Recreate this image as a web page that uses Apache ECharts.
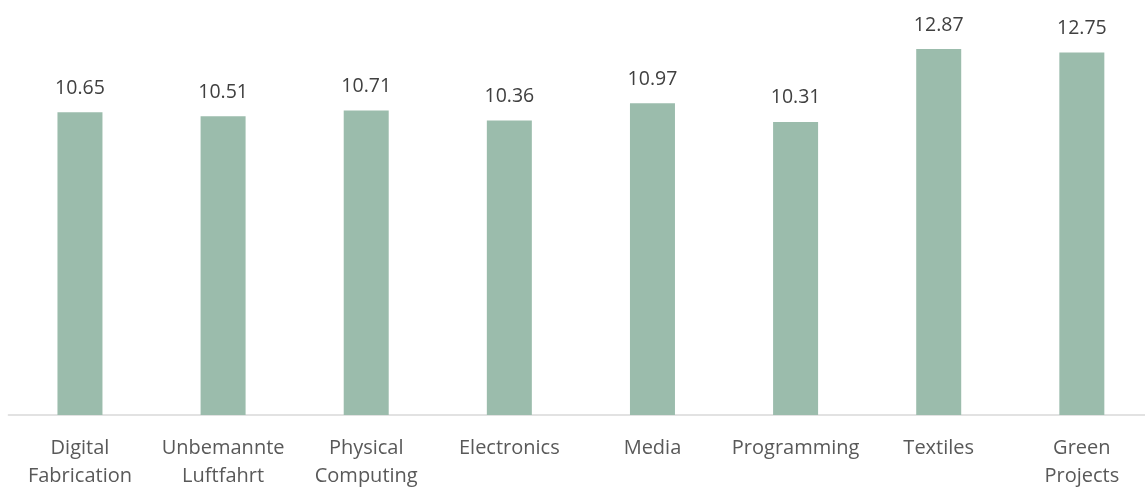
<!DOCTYPE html>
<html><head><meta charset="utf-8">
<script src="https://cdn.jsdelivr.net/npm/echarts@6/dist/echarts.min.js"></script>
<style>html,body{margin:0;padding:0;background:#fff;overflow:hidden}#c{width:1145px;height:487px}</style>
</head><body><div id="c"></div>
<script>
const categories = ['Digital\nFabrication','Unbemannte\nLuftfahrt','Physical\nComputing','Electronics','Media','Programming','Textiles','Green\nProjects'];
const values = [10.65, 10.51, 10.71, 10.36, 10.97, 10.31, 12.87, 12.75];
const chart = echarts.init(document.getElementById('c'), null, {renderer:'canvas'});
chart.setOption({
  animation:false,
  textStyle:{fontFamily:'Open Sans'},
  grid:{left:8.4, width:1145, top:17, bottom:72, containLabel:false, outerBoundsMode:'none'},
  xAxis:{type:'category', data:categories,
    axisLine:{show:true, lineStyle:{color:'#d9d9d9', width:1.5}},
    axisTick:{show:false},
    axisLabel:{interval:0, color:'#595959', fontSize:20, lineHeight:28, margin:19, fontFamily:'Open Sans'}},
  yAxis:{type:'value', min:0, max:14, show:false, splitLine:{show:false}},
  series:[{type:'bar', data:values, barWidth:45,
    itemStyle:{color:'#9bbcac'},
    label:{show:true, position:'top', distance:14, color:'#404040', fontSize:19.5, fontFamily:'Open Sans',
      formatter:p=>p.value.toFixed(2)}}]
});
</script></body></html>
